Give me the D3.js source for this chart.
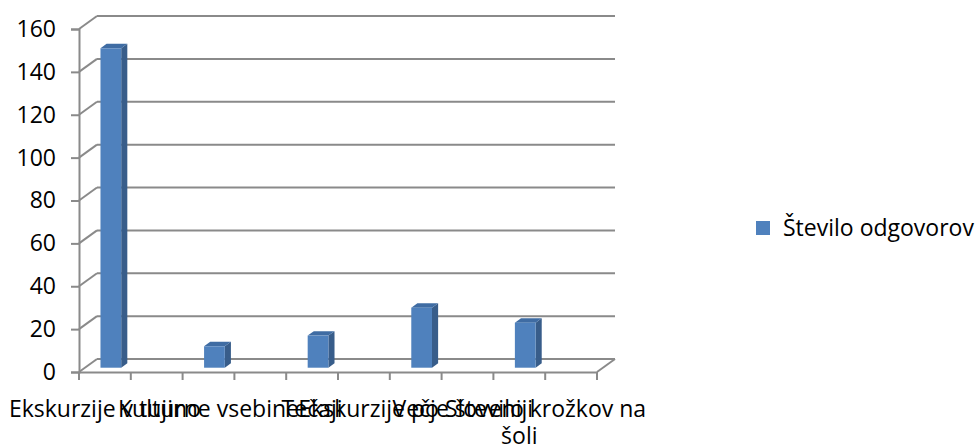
<!DOCTYPE html>
<html>
<head>
	<title>Število odgovorov</title>
	<style type="text/css">

body {
	margin:0;
	background:#fff;
}

text {
	font-family: "Open Sans", sans-serif;
	font-size: 23px;
	fill: #000;
}

.grid line, .axis line {
	stroke: #8a8a8a;
	stroke-width: 2px;
}

	</style>
</head>
<body>

<div id="chart"></div>

<script type="text/javascript" src="https://cdn.jsdelivr.net/npm/d3@7/dist/d3.min.js"></script>
<script type="text/javascript">

var categories = ["Ekskurzije v tujino", "", "Kulturne vsebine", "", "Tečaji", "", "Ekskurzije po Sloveniji", "", "Večje število krožkov na šoli", ""];
var values = [149, null, 10, null, 15, null, 28, null, 21, null];
var yTicks = [0, 20, 40, 60, 80, 100, 120, 140, 160];
var seriesName = "Število odgovorov";

var width = 979, height = 446;

var plot = {left:79, right:597, top:29, bottom:372};
var depth = {dx:18, dy:-13};
var barDepth = {from:0.33, to:0.67};

var svg = d3.select("#chart").append("svg")
			.attr("width",width)
			.attr("height",height);

var x = d3.scaleBand()
		.domain(d3.range(categories.length))
		.range([plot.left,plot.right])
		.paddingInner(0.6)
		.paddingOuter(0.3);

var xb = d3.scaleBand()
		.domain(d3.range(categories.length))
		.range([plot.left,plot.right]);

var y = d3.scaleLinear()
		.domain([0,160])
		.range([plot.bottom,plot.top]);

// walls + gridlines
var grid = svg.append("g").attr("class","grid");

grid.selectAll(".back")
	.data(yTicks)
	.enter().append("line")
	.attr("x1",plot.left+depth.dx)
	.attr("x2",plot.right+depth.dx)
	.attr("y1",function(d){ return y(d)+depth.dy; })
	.attr("y2",function(d){ return y(d)+depth.dy; });

grid.selectAll(".side")
	.data(yTicks)
	.enter().append("line")
	.attr("x1",plot.left)
	.attr("x2",plot.left+depth.dx)
	.attr("y1",function(d){ return y(d); })
	.attr("y2",function(d){ return y(d)+depth.dy; });

grid.append("line")
	.attr("x1",plot.right)
	.attr("x2",plot.right+depth.dx)
	.attr("y1",y(0))
	.attr("y2",y(0)+depth.dy);

// axes
var yAxis = svg.append("g")
		.attr("class","axis")
		.attr("transform","translate("+plot.left+",0)")
		.call(d3.axisLeft(y).tickValues(yTicks).tickSize(8).tickPadding(15));

var xAxis = svg.append("g")
		.attr("class","axis")
		.attr("transform","translate(0,"+plot.bottom+")")
		.call(d3.axisBottom(xb).tickSize(0).tickFormat(""));

svg.selectAll(".axis path").attr("stroke","#8a8a8a").attr("stroke-width",2);
yAxis.selectAll("text").style("font-size","23px").style("font-family","'Open Sans', sans-serif");

xAxis.selectAll(".xtick")
	.data(d3.range(categories.length+1))
	.enter().append("line")
	.attr("x1",function(d){ return plot.left + d*xb.bandwidth(); })
	.attr("x2",function(d){ return plot.left + d*xb.bandwidth(); })
	.attr("y1",0)
	.attr("y2",8);

// category labels, wrapped like the office chart does
var wrapWidth = 5.5*xb.bandwidth();

var labels = svg.append("g")
		.selectAll(".label")
		.data(categories)
		.enter().append("text")
		.attr("class","label")
		.attr("text-anchor","middle")
		.attr("x",function(d,i){ return xb(i)+xb.bandwidth()/2; })
		.attr("y",417)
		.each(function(d){
			var el = d3.select(this), words = d.split(" "), line = [], lines = [];
			words.forEach(function(w){
				line.push(w);
				el.text(line.join(" "));
				if (this.getComputedTextLength() > wrapWidth && line.length > 1){
					line.pop();
					lines.push(line.join(" "));
					line = [w];
				}
			}, this);
			if (line.length) lines.push(line.join(" "));
			el.text(null);
			var x0 = el.attr("x");
			lines.forEach(function(l,k){
				el.append("tspan").attr("x",x0).attr("dy",k ? 27 : 0).text(l);
			});
		});

// 3d bars
var bars = categories.map(function(c,i){ return {i:i, value:values[i]}; })
			.filter(function(d){ return d.value != null; });

var f0 = barDepth.from, f1 = barDepth.to;

var bar = svg.selectAll(".bar")
		.data(bars)
		.enter().append("g")
		.attr("class","bar");

function pt(px,py){ return px+","+py; }

bar.append("polygon")
	.attr("fill","#385d8a")
	.attr("points",function(d){
		var xr = x(d.i)+x.bandwidth(), y0 = y(0), y1 = y(d.value);
		return [pt(xr+f0*depth.dx,y0+f0*depth.dy), pt(xr+f1*depth.dx,y0+f1*depth.dy),
				pt(xr+f1*depth.dx,y1+f1*depth.dy), pt(xr+f0*depth.dx,y1+f0*depth.dy)].join(" ");
	});

bar.append("polygon")
	.attr("fill","#3f6ca3")
	.attr("points",function(d){
		var xl = x(d.i), xr = xl+x.bandwidth(), y1 = y(d.value);
		return [pt(xl+f0*depth.dx,y1+f0*depth.dy), pt(xr+f0*depth.dx,y1+f0*depth.dy),
				pt(xr+f1*depth.dx,y1+f1*depth.dy), pt(xl+f1*depth.dx,y1+f1*depth.dy)].join(" ");
	});

bar.append("rect")
	.attr("fill","#4f81bd")
	.attr("x",function(d){ return x(d.i)+f0*depth.dx; })
	.attr("y",function(d){ return y(d.value)+f0*depth.dy; })
	.attr("width",x.bandwidth())
	.attr("height",function(d){ return y(0)-y(d.value); });

// legend
var legend = svg.append("g")
		.attr("transform","translate(756,221)");

legend.append("rect")
	.attr("width",14)
	.attr("height",14)
	.attr("fill","#4f81bd");

legend.append("text")
	.attr("x",27)
	.attr("y",15)
	.text(seriesName);

</script>
</body>
</html>
